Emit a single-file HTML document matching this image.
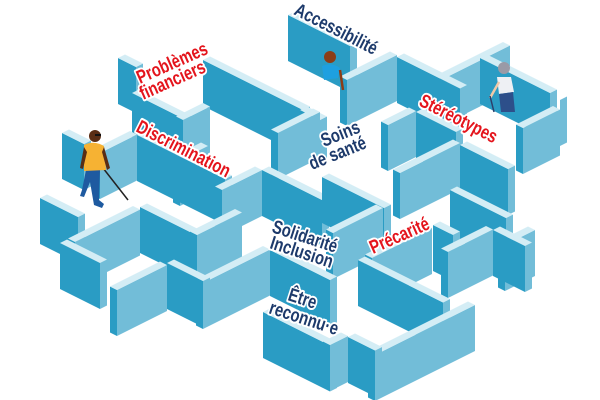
<!DOCTYPE html>
<html><head><meta charset="utf-8">
<style>
html,body{margin:0;padding:0;background:#fff;width:600px;height:400px;overflow:hidden}
svg{display:block}
.lb{font-family:"Liberation Sans Narrow","Liberation Sans",sans-serif;font-weight:bold;font-size:19px;paint-order:stroke;stroke:#fff;stroke-width:4px;stroke-linejoin:round}
.r{fill:#e4141c}.n{fill:#1d3a6b}
</style></head>
<body>
<svg id="s" width="600" height="400" viewBox="0 0 600 400" xmlns="http://www.w3.org/2000/svg">
<g id="walls"></g>
<g>
 <line x1="103" y1="168" x2="128" y2="200" stroke="#222" stroke-width="1.5"/>
 <path d="M86 170 L82 190 L80 196 L84 197 L90 182 L94 205 L102 208 L104 204 L99 200 L100 170 Z" fill="#1e5aa0"/>
 <path d="M84 145 Q94 140 104 146 L106 170 L84 171 Z" fill="#f6b233"/>
 <path d="M84 147 L80 168 L83 169 L87 152Z M104 147 L110 168 L107 170 L102 152Z" fill="#5a2d14"/>
 <circle cx="95" cy="136" r="6" fill="#5a2d14"/>
 <rect x="95" y="134" width="6" height="2" fill="#111"/>
 <circle cx="330" cy="57" r="6" fill="#8b3d17"/>
 <path d="M322 66 Q332 62 340 68 L338 78 L324 80 Z" fill="#1ea0e0"/>
 <line x1="340" y1="70" x2="343" y2="90" stroke="#8b3d17" stroke-width="2.5"/>
 <circle cx="504" cy="68" r="6" fill="#9a9aa6"/>
 <path d="M497 77 L511 77 L514 92 L499 94 Z" fill="#eef0f4"/>
 <path d="M499 94 L513 92 L515 112 L501 112 Z" fill="#2d4f8a"/>
 <line x1="499" y1="82" x2="490" y2="98" stroke="#f1c9a8" stroke-width="2.5"/>
 <line x1="490" y1="96" x2="494" y2="112" stroke="#2d3e6a" stroke-width="1.5"/>
</g>
<text class="lb r" transform="translate(140,84) rotate(-24) scale(0.78,1)">Problèmes</text>
<text class="lb r" transform="translate(143,100) rotate(-24) scale(0.78,1)">financiers</text>
<text class="lb r" transform="translate(135,131) rotate(27) scale(0.78,1)">Discrimination</text>
<text class="lb n" transform="translate(293,14) rotate(27) scale(0.78,1)">Accessibilité</text>
<text class="lb r" transform="translate(418,105) rotate(27) scale(0.78,1)">Stéréotypes</text>
<text class="lb n" transform="translate(324,147) rotate(-22) scale(0.78,1)">Soins</text>
<text class="lb n" transform="translate(312,170) rotate(-22) scale(0.78,1)">de santé</text>
<text class="lb n" transform="translate(271,232) rotate(18) scale(0.78,1)">Solidarité</text>
<text class="lb n" transform="translate(269,248) rotate(18) scale(0.78,1)">Inclusion</text>
<text class="lb n" transform="translate(287,300) rotate(18) scale(0.78,1)">Être</text>
<text class="lb n" transform="translate(268,313) rotate(18) scale(0.78,1)">reconnu·e</text>
<text class="lb r" transform="translate(373,254) rotate(-24) scale(0.78,1)">Précarité</text>
</svg>
<script>
var H=46,T=7;
var segs=[
["a",288,15,62],["b",347,80,50],["a",397,57,63],["b",447,77,63],["a",480,58,70],["b",523,128,37],["a",560,100,0],
["a",118,58,18],["a",132,93,52],["b",183,120,27],["a",203,60,100],["b",278,133,42],["a",300,110,20],
["a",62,133,22],["b",100,153,37],["a",137,135,88],["b",180,160,28],
["b",388,125,28],["a",416,112,40],["b",400,173,60],["a",460,145,48],
["a",40,198,38],["a",60,243,40],["b",75,242,65],["a",140,207,57],["b",197,235,45],
["b",222,190,40],["a",262,170,60],["a",322,177,62],["b",333,233,50],
["a",450,190,56],["b",448,252,45],["a",493,230,32],["b",505,245,30],
["a",358,260,85],["b",372,258,60],["a",433,225,20],
["b",117,290,50],["a",167,263,36],["b",203,283,67],["a",270,250,60],
["a",263,312,67],["b",330,345,18],["a",348,337,27],["b",375,355,100]
];
segs.sort(function(p,q){return (p[2]+(p[0]=="a"?p[3]/4:-p[3]/4))-(q[2]+(q[0]=="a"?q[3]/4:-q[3]/4));});
var out="";
function poly(pts,c){out+='<polygon points="'+pts.map(function(p){return p[0].toFixed(1)+","+p[1].toFixed(1)}).join(" ")+'" fill="'+c+'"/>';}
var DARK="#2a9cc4",LIGHT="#72bdd8",CAP="#d4edf5";
segs.forEach(function(s){
 var x=s[1],y=s[2],L=s[3];
 if(s[0]=="a"){
  var x1=x+L,y1=y+L/2,bx=T,by=-T/2;
  poly([[x,y],[x1,y1],[x1,y1+H],[x,y+H]],DARK);
  poly([[x1,y1],[x1+bx,y1+by],[x1+bx,y1+by+H],[x1,y1+H]],LIGHT);
  poly([[x,y],[x1,y1],[x1+bx,y1+by],[x+bx,y+by]],CAP);
 }else{
  var x1=x+L,y1=y-L/2,bx=-T,by=-T/2;
  poly([[x,y],[x1,y1],[x1,y1+H],[x,y+H]],LIGHT);
  poly([[x+bx,y+by],[x,y],[x,y+H],[x+bx,y+by+H]],DARK);
  poly([[x,y],[x1,y1],[x1+bx,y1+by],[x+bx,y+by]],CAP);
 }
});
document.getElementById("walls").innerHTML=out;
</script>
</body></html>
